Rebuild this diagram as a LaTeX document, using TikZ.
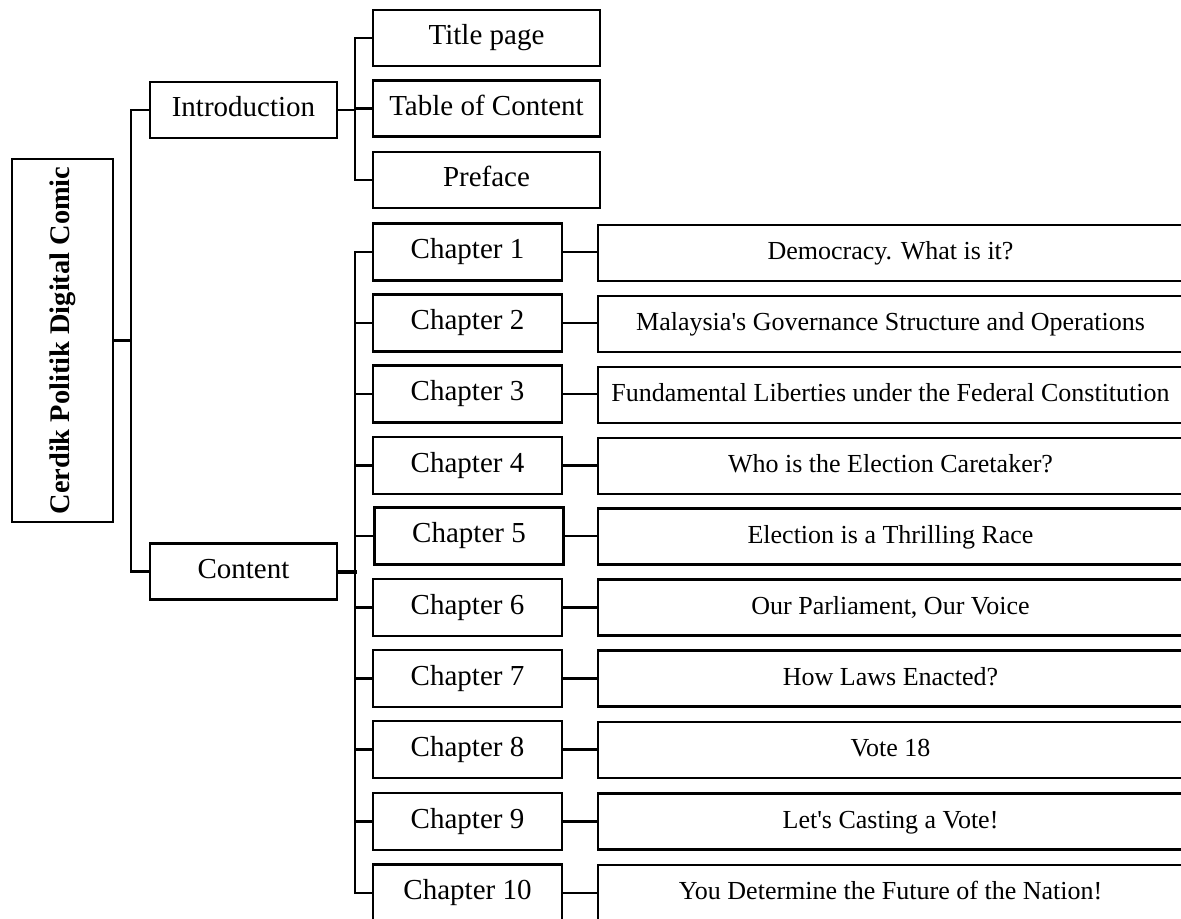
\documentclass[tikz,border=0pt]{standalone}
\usepackage{fontspec}
\setmainfont{Liberation Serif}
\usepackage{tikz}
\tikzset{
	box/.style={rectangle,draw=black,line width=1.3pt,inner sep=0pt,fill=white,font=\fontsize{14.5pt}{17pt}\selectfont},
	mid/.style={text height=0.66em,text depth=0pt},
	rootbox/.style={box,minimum width=50.5pt,minimum height=181.5pt,font=\fontsize{14.2pt}{17pt}\selectfont},
	partbox/.style={box,mid,minimum width=93.5pt,minimum height=28pt},
	pagebox/.style={box,mid,minimum width=113.5pt,minimum height=28pt},
	chapbox/.style={box,mid,minimum width=94.5pt,minimum height=28.5pt},
	topicbox/.style={box,minimum width=292.5pt,minimum height=28pt,font=\fontsize{13pt}{16pt}\selectfont,mid},
	conn/.style={line width=1.1pt,line cap=rect},
	connbig/.style={line width=2pt,line cap=rect},
	}
\begin{document}
\begin{tikzpicture}[x=0.5pt,y=-0.5pt]
\useasboundingbox (0,0) rectangle (1181,919);
\clip (0,0) rectangle (1181,919);
%RADICE
\node[rootbox] (root) at (62.5,340.5) {\rotatebox{90}{\textbf{Cerdik Politik Digital Comic}}};
%PARTI
\node[partbox] (intro) at (243.5,110) {Introduction};
\node[partbox] (content) at (243.5,571.5) {Content};
%INTRODUZIONE
\node[pagebox] (title) at (486.5,38) {Title page};
\node[pagebox] (toc) at (486.5,108.5) {Table of Content};
\node[pagebox] (preface) at (486.5,180) {Preface};
%CAPITOLI
\node[chapbox] (ch1) at (467.5,252) {Chapter 1};
\node[chapbox] (ch2) at (467.5,323) {Chapter 2};
\node[chapbox] (ch3) at (467.5,394) {Chapter 3};
\node[chapbox] (ch4) at (467.5,465.5) {Chapter 4};
\node[chapbox] (ch5) at (469,536) {Chapter 5};
\node[chapbox] (ch6) at (467.5,607.5) {Chapter 6};
\node[chapbox] (ch7) at (467.5,678.5) {Chapter 7};
\node[chapbox] (ch8) at (467.5,749.5) {Chapter 8};
\node[chapbox] (ch9) at (467.5,821.5) {Chapter 9};
\node[chapbox] (ch10) at (467.5,893) {Chapter 10};
%TEMI
\node[topicbox] (t1) at (890.5,253) {Democracy. What is it?};
\node[topicbox] (t2) at (890.5,324) {Malaysia\textquotesingle s Governance Structure and Operations};
\node[topicbox] (t3) at (890.5,395) {Fundamental Liberties under the Federal Constitution};
\node[topicbox] (t4) at (890.5,466) {Who is the Election Caretaker?};
\node[topicbox] (t5) at (890.5,536.5) {Election is a Thrilling Race};
\node[topicbox] (t6) at (890.5,607.5) {Our Parliament, Our Voice};
\node[topicbox] (t7) at (890.5,678.5) {How Laws Enacted?};
\node[topicbox] (t8) at (890.5,750) {Vote 18};
\node[topicbox] (t9) at (890.5,821.5) {Let\textquotesingle s Casting a Vote!};
\node[topicbox] (t10) at (890.5,893) {You Determine the Future of the Nation!};
%DIRAMAZIONI
\coordinate (j0) at (131,340.5);
\coordinate (j1) at (355,110);
\coordinate (j2) at (355,571.5);
\draw[conn] (root.east) -- (j0);
\draw[conn] (j0) |- (intro.west);
\draw[conn] (j0) |- (content.west);
\draw[conn] (intro.east) -- (j1);
\draw[conn] (j1) |- (title.west);
\draw[conn] (j1) |- (toc.west);
\draw[conn] (j1) |- (preface.west);
\draw[connbig] (content.east) -- (j2);
\draw[conn] (j2) |- (ch1.west);
\draw[conn] (j2) |- (ch2.west);
\draw[conn] (j2) |- (ch3.west);
\draw[conn] (j2) |- (ch4.west);
\draw[conn] (j2) |- (ch5.west);
\draw[conn] (j2) |- (ch6.west);
\draw[conn] (j2) |- (ch7.west);
\draw[conn] (j2) |- (ch8.west);
\draw[conn] (j2) |- (ch9.west);
\draw[conn] (j2) |- (ch10.west);
% CAPITOLO -> TEMA
\draw[conn] (ch1.east) -- (t1.west |- ch1.east);
\draw[conn] (ch2.east) -- (t2.west |- ch2.east);
\draw[conn] (ch3.east) -- (t3.west |- ch3.east);
\draw[conn] (ch4.east) -- (t4.west |- ch4.east);
\draw[conn] (ch5.east) -- (t5.west |- ch5.east);
\draw[conn] (ch6.east) -- (t6.west |- ch6.east);
\draw[conn] (ch7.east) -- (t7.west |- ch7.east);
\draw[conn] (ch8.east) -- (t8.west |- ch8.east);
\draw[conn] (ch9.east) -- (t9.west |- ch9.east);
\draw[conn] (ch10.east) -- (t10.west |- ch10.east);
\end{tikzpicture}
\end{document}
